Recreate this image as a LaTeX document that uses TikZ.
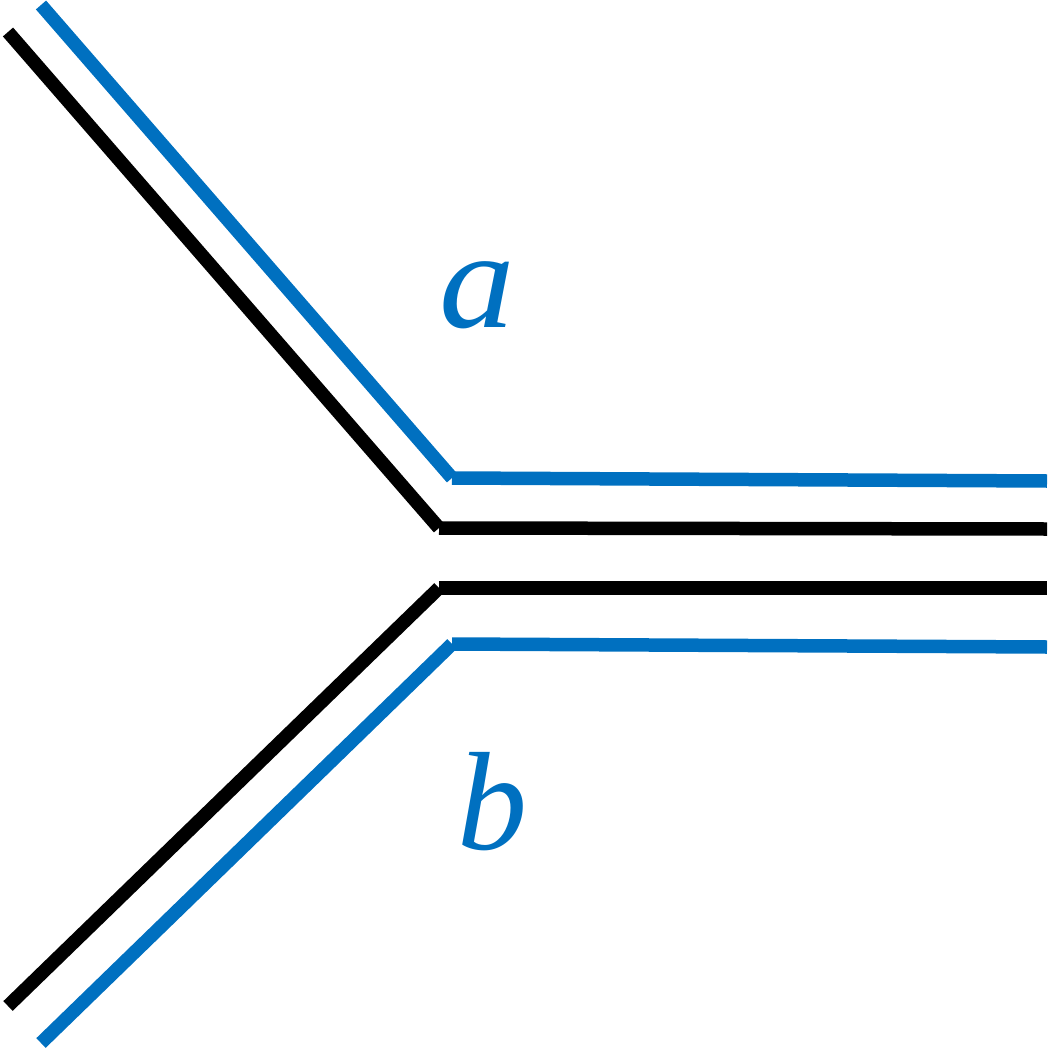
\documentclass[tikz,border=0pt]{standalone}
\usepackage{fontspec}
\setmainfont{Liberation Serif}
\definecolor{lineblue}{RGB}{0,112,192}
\begin{document}
\begin{tikzpicture}[x=1pt,y=-1pt,
  blackline/.style={line width=13.5pt,black,line cap=butt},
  blueline/.style={line width=13.5pt,lineblue,line cap=butt},
  lbl/.style={text=lineblue,font=\fontsize{140}{140}\selectfont\itshape,inner sep=0pt,anchor=base}]
\useasboundingbox (0,0) rectangle (1047,1051);
% black lines
\coordinate (k1) at (8,32);
\coordinate (k2) at (439,528);
\coordinate (k3) at (1047,529);
\coordinate (k4) at (439,588);
\coordinate (k5) at (1047,588);
\coordinate (k6) at (8,1006);
% blue lines
\coordinate (u1) at (41,5);
\coordinate (u2) at (452,478);
\coordinate (u3) at (1047,481);
\coordinate (u4) at (452,644);
\coordinate (u5) at (1047,647);
\coordinate (u6) at (41,1043);
\draw[blackline] (k1) -- (k2);
\draw[blackline] (k2) -- (k3);
\draw[blackline] (k4) -- (k5);
\draw[blackline] (k4) -- (k6);
\draw[blueline] (u1) -- (u2);
\draw[blueline] (u2) -- (u3);
\draw[blueline] (u4) -- (u5);
\draw[blueline] (u4) -- (u6);
\node[lbl,xscale=1.08] (la) at (477,327) {a};
\node[lbl] (lb) at (492,849) {b};
\end{tikzpicture}
\end{document}
